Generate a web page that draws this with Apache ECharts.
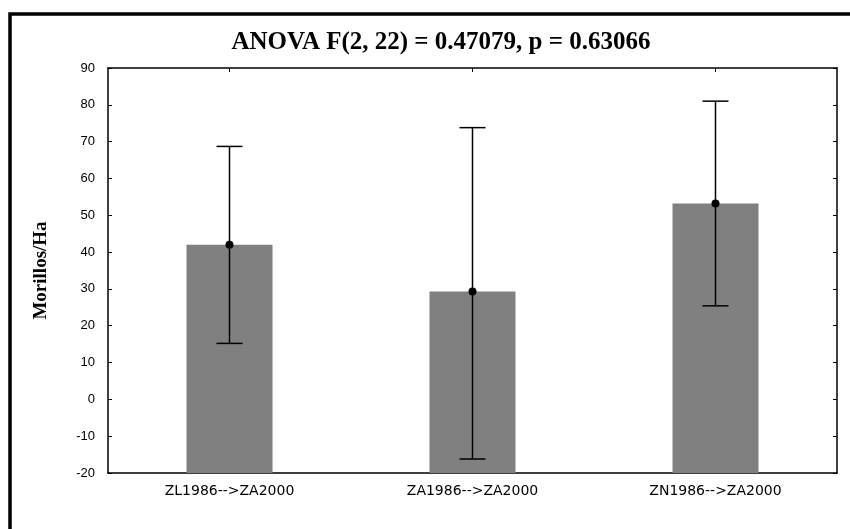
<!DOCTYPE html>
<html>
<head>
<meta charset="utf-8">
<script src="https://cdn.jsdelivr.net/npm/echarts@6/dist/echarts.min.js"></script>
<style>html,body{margin:0;padding:0;background:#fff;}#c{width:850px;height:529px;}</style>
</head>
<body>
<div id="c"></div>
<script>
var categories = ['ZL1986-->ZA2000', 'ZA1986-->ZA2000', 'ZN1986-->ZA2000'];
var means = [42, 29.3, 53.2];
var lowerCI = [15.2, -16.2, 25.4];
var upperCI = [68.7, 73.8, 81];
var yTicks = { min: -20, max: 90, interval: 10 };
var titleText = 'ANOVA F(2, 22) = 0.47079, p = 0.63066';
var yName = 'Morillos/Ha';

var chart = echarts.init(document.getElementById('c'), null, { renderer: 'canvas' });
var barData = categories.map(function (c, i) { return [i, means[i]]; });
var errData = categories.map(function (c, i) { return [i, lowerCI[i], upperCI[i], means[i]]; });

var axisLine = { show: true, onZero: false, lineStyle: { color: '#000', width: 1.5 } };
var tick = { show: true, inside: true, length: 4, lineStyle: { color: '#000', width: 1 } };
var option = {
  backgroundColor: '#fff',
  animation: false,
  title: {
    text: titleText, left: 436, top: 25, textAlign: 'center',
    textStyle: { fontFamily: 'Liberation Serif', fontWeight: 'bold', fontSize: 25, color: '#000' }
  },
  grid: { left: 108, right: 13, top: 68, bottom: 56 },
  xAxis: [{
    type: 'category', data: categories, position: 'bottom',
    axisLine: axisLine,
    axisTick: Object.assign({ alignWithLabel: true }, tick),
    axisLabel: { color: '#000', fontFamily: 'DejaVu Sans', fontSize: 14, margin: 11 },
    splitLine: { show: false }
  }, {
    type: 'category', data: categories, position: 'top',
    axisLine: axisLine,
    axisTick: Object.assign({ alignWithLabel: true }, tick),
    axisLabel: { show: false }, splitLine: { show: false }
  }],
  yAxis: [{
    type: 'value', min: yTicks.min, max: yTicks.max, interval: yTicks.interval, position: 'left',
    name: yName, nameLocation: 'middle', nameGap: 57, nameRotate: 90,
    nameTextStyle: { fontFamily: 'Liberation Serif', fontWeight: 'bold', fontSize: 19, color: '#000' },
    axisLine: axisLine,
    axisTick: tick,
    axisLabel: { color: '#000', fontFamily: 'Liberation Sans', fontSize: 13, margin: 13 },
    splitLine: { show: false }
  }, {
    type: 'value', min: yTicks.min, max: yTicks.max, interval: yTicks.interval, position: 'right',
    axisLine: axisLine,
    axisTick: tick,
    axisLabel: { show: false }, splitLine: { show: false }
  }],
  graphic: [{
    type: 'rect', shape: { x: 10, y: 14, width: 900, height: 600 },
    style: { fill: 'none', stroke: '#000', lineWidth: 3.5 }, silent: true, z: 100
  }],
  series: [{
    type: 'custom', data: barData, z: 2,
    renderItem: function (params, api) {
      var x = api.value(0);
      var top = api.coord([x, api.value(1)]);
      var base = api.coord([x, yTicks.min]);
      var w = 86;
      return {
        type: 'rect',
        shape: { x: top[0] - w / 2, y: top[1], width: w, height: base[1] - top[1] },
        style: { fill: '#808080' }
      };
    }
  }, {
    type: 'custom', data: errData, z: 5,
    renderItem: function (params, api) {
      var x = api.value(0);
      var lo = api.coord([x, api.value(1)]);
      var hi = api.coord([x, api.value(2)]);
      var mid = api.coord([x, api.value(3)]);
      var hw = 13;
      var st = { stroke: '#000', lineWidth: 1.5 };
      return {
        type: 'group', children: [
          { type: 'line', shape: { x1: hi[0], y1: hi[1], x2: lo[0], y2: lo[1] }, style: st },
          { type: 'line', shape: { x1: hi[0] - hw, y1: hi[1], x2: hi[0] + hw, y2: hi[1] }, style: st },
          { type: 'line', shape: { x1: lo[0] - hw, y1: lo[1], x2: lo[0] + hw, y2: lo[1] }, style: st },
          { type: 'circle', shape: { cx: mid[0], cy: mid[1], r: 4 }, style: { fill: '#000' } }
        ]
      };
    }
  }]
};
chart.setOption(option);
</script>
</body>
</html>
